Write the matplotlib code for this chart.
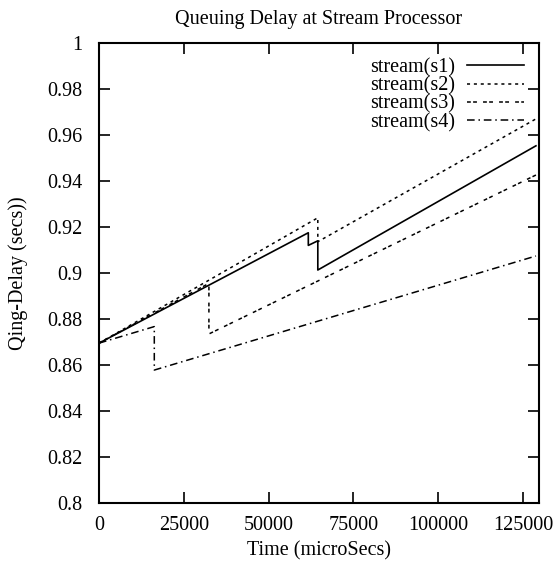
import matplotlib
matplotlib.use('Agg')
import matplotlib.pyplot as plt

# vertices of each stream's queuing delay curve (microsecs, secs)
s1_t = [0, 61700, 61700, 64500, 64500, 128800]
s1_d = [0.8695, 0.9175, 0.9120, 0.9140, 0.9013, 0.9553]
s2_t = [0, 64500, 64500, 128800]
s2_d = [0.8695, 0.9240, 0.9136, 0.9670]
s3_t = [0, 32400, 32400, 128800]
s3_d = [0.8695, 0.8955, 0.8735, 0.9426]
s4_t = [0, 16300, 16300, 128800]
s4_d = [0.8695, 0.8767, 0.8578, 0.9074]

x_ticks = [0, 25000, 50000, 75000, 100000, 125000]
y_ticks = [0.8, 0.82, 0.84, 0.86, 0.88, 0.9, 0.92, 0.94, 0.96, 0.98, 1]
y_labels = ['0.8', '0.82', '0.84', '0.86', '0.88', '0.9', '0.92', '0.94', '0.96', '0.98', '1']

plt.rcParams['font.family'] = ['Liberation Serif', 'DejaVu Serif']
fs = 14.5

fig = plt.figure(figsize=(5.55, 5.62), dpi=100)
ax = fig.add_axes([99 / 555, 1 - 503 / 562, 440 / 555, 460 / 562])

ax.plot(s1_t, s1_d, color='black', linestyle='-', linewidth=1.2, label='stream(s1)')
ax.plot(s2_t, s2_d, color='black', linestyle=(0, (2, 2.5)), linewidth=1.1, label='stream(s2)')
ax.plot(s3_t, s3_d, color='black', linestyle=(0, (2.5, 1.5, 2.5, 4)), linewidth=1.1, label='stream(s3)')
ax.plot(s4_t, s4_d, color='black', linestyle=(0, (5, 2.5, 1, 2.5)), linewidth=1.1, label='stream(s4)')

ax.set_xlim(0, 129700)
ax.set_ylim(0.8, 1)
ax.set_xticks(x_ticks)
ax.set_xticklabels([str(v) for v in x_ticks])
ax.set_yticks(y_ticks)
ax.set_yticklabels(y_labels)
ax.tick_params(direction='in', length=8, width=1.2, top=True, right=True, labelsize=fs)
ax.tick_params(axis='y', pad=12)
ax.tick_params(axis='x', pad=9)
for sp in ax.spines.values():
    sp.set_linewidth(1.5)

ax.set_title('Queuing Delay at Stream Processor', fontsize=fs, pad=14)
ax.set_xlabel('Time (microSecs)', fontsize=fs, labelpad=5)
ax.set_ylabel('Qing-Delay (secs))', fontsize=fs, labelpad=14)

ax.legend(loc='upper right', frameon=False, markerfirst=False, handlelength=2.85,
          labelspacing=-0.05, borderaxespad=0.35, handletextpad=0.55, fontsize=fs)

fig.savefig('out.png', dpi=100)
